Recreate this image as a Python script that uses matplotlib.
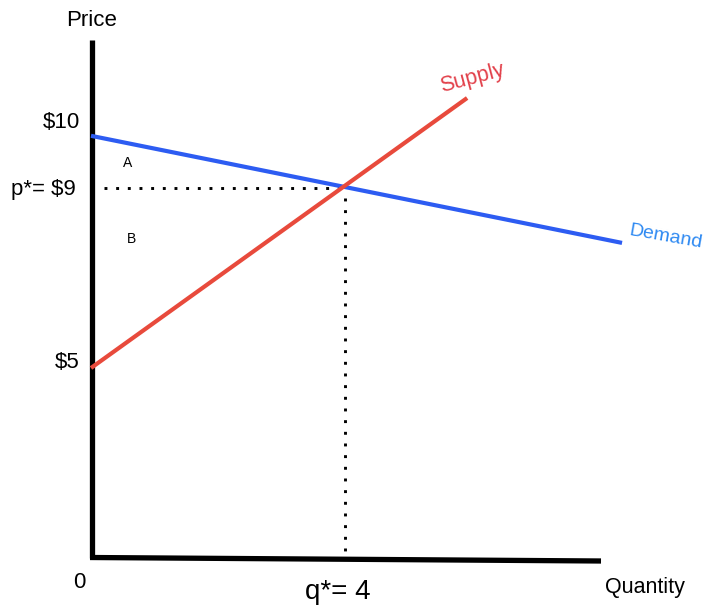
import matplotlib
matplotlib.use("Agg")
import matplotlib.pyplot as plt

plt.rcParams['font.family'] = ['Liberation Sans', 'DejaVu Sans']

# curves (quantity, price)
supply_q = [0, 5.9]
supply_p = [5, 11.0]
demand_q = [0, 8.33]
demand_p = [10.16, 7.78]

# equilibrium
q_star = 4
p_star = 9
dot_start_q = 0.2   # horizontal dotted guide starts a bit right of the axis
dot_floor = 0.85    # where the vertical dotted line stops

W, H = 705, 608
fig = plt.figure(figsize=(W / 100, H / 100), dpi=100)
ax = fig.add_axes([0, 0, 1, 1])
# 1 unit of quantity ~ 63.75 px, 1 unit of price ~ 45 px
ax.set_xlim(-91 / 63.75, (W - 91) / 63.75)
ax.set_ylim((593 - H) / 45, 593 / 45)
ax.axis('off')


def fx(x):
    return x / W


def fy(y):
    return 1 - y / H


T = ax.transAxes

# axis frame
ax.plot([fx(92), fx(92)], [fy(40), fy(558)], color='black', lw=3.8, transform=T,
        solid_capstyle='butt')
ax.plot([fx(90), fx(601)], [fy(557.5), fy(561)], color='black', lw=3.8, transform=T,
        solid_capstyle='butt')

# dotted guides
dots = dict(color='black', lw=2.1, linestyle=(0, (1, 3.0)), dash_capstyle='butt')
ax.plot([dot_start_q, q_star], [p_star, p_star], **dots)
ax.plot([q_star - 0.02, q_star - 0.02], [p_star - 0.22, dot_floor], **dots)

# supply and demand
ax.plot(demand_q, demand_p, color='#2d5cf2', lw=3, solid_capstyle='butt')
ax.plot(supply_q, supply_p, color='#e84a3c', lw=3, solid_capstyle='butt')

# labels
ax.text(fx(92), fy(20), 'Price', fontsize=16, ha='center', va='center', transform=T)
ax.text(fx(80), fy(123), '$10', fontsize=16, ha='right', va='center', transform=T)
ax.text(fx(76), fy(190), 'p*= $9', fontsize=16, ha='right', va='center', transform=T)
ax.text(fx(80), fy(362), '$5', fontsize=16, ha='right', va='center', transform=T)
ax.text(fx(79), fy(583), '0', fontsize=16, ha='center', va='center', transform=T)
ax.text(fx(338), fy(592), 'q*= 4', fontsize=20, ha='center', va='center', transform=T)
ax.text(fx(645), fy(588), 'Quantity', fontsize=15.5, ha='center', va='center', transform=T)
ax.text(fx(128), fy(163), 'A', fontsize=10, ha='center', va='center', transform=T)
ax.text(fx(131), fy(239), 'B', fontsize=10, ha='center', va='center', transform=T)

ax.text(fx(472), fy(78), 'Supply', fontsize=15.5, color='#e2404a', rotation=15,
        ha='center', va='center', transform=T, rotation_mode='anchor')
ax.text(fx(666), fy(237), 'Demand', fontsize=14, color='#2f8af2', rotation=-10,
        ha='center', va='center', transform=T, rotation_mode='anchor')

fig.savefig('out.png', dpi=100)
